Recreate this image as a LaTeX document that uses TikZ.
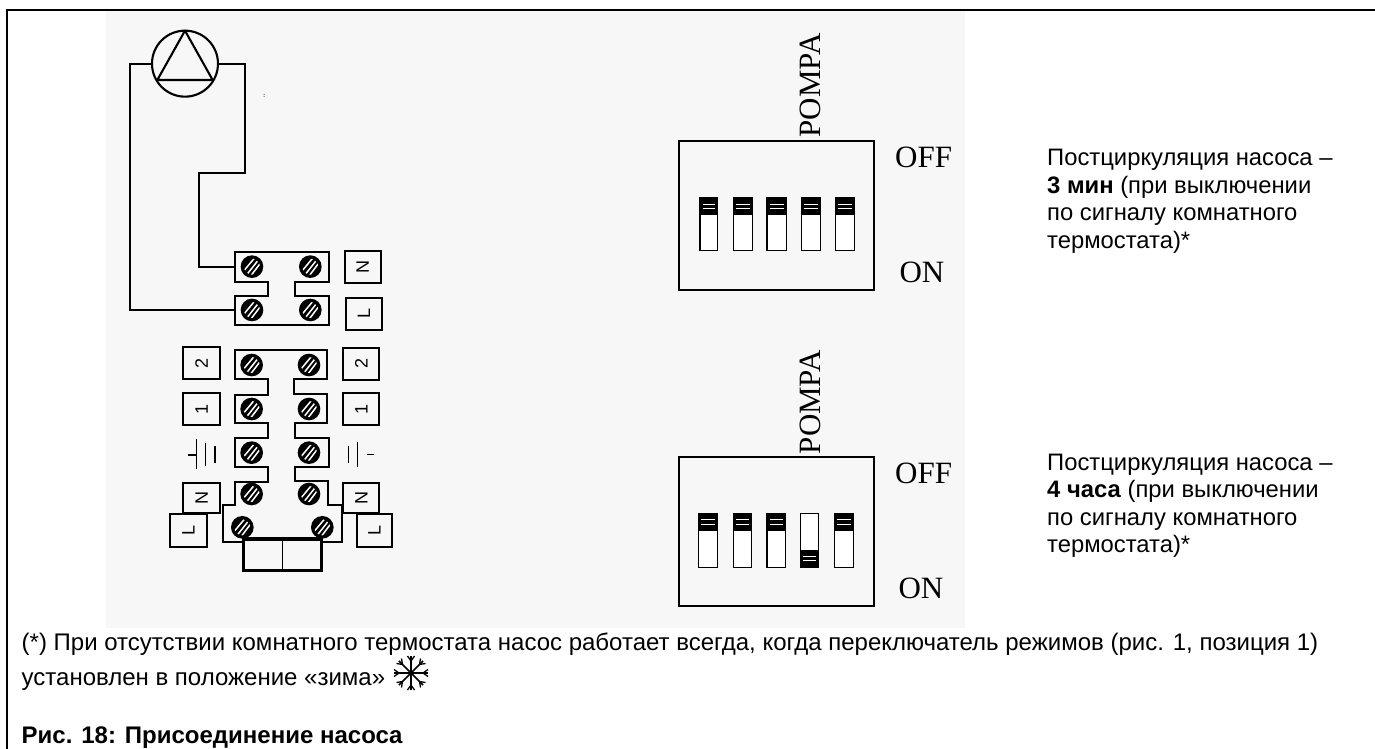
\documentclass[tikz,border=0pt]{standalone}
\usepackage{fontspec}
\setmainfont{Liberation Sans}
\newfontfamily\tms{Liberation Serif}
\definecolor{paper}{HTML}{F7F7F7}
\newcommand{\screw}[2]{%
  \begin{scope}[shift={(#1,#2)}]
    \fill[black] (0,0) circle[radius=34];
    \begin{scope}
      \clip (0,0) circle[radius=24];
      \draw[white,line width=1.5pt] (-24,12) -- (6,-24) (-14,22) -- (16,-16) (-3,27) -- (25,-10);
    \end{scope}
  \end{scope}}
\newcommand{\dip}[5]{%
  \draw[line width=1.6pt,fill=white] (#1,#3) rectangle (#2,#4);
  \ifnum#5=1
    \fill[black] (#1,#3) rectangle (#2,#3+52);
    \draw[white,line width=0.8pt] (#1+8,#3+19) -- (#2-8,#3+19) (#1+8,#3+32) -- (#2-8,#3+32);
  \else
    \fill[black] (#1,#4-52) rectangle (#2,#4);
    \draw[white,line width=0.8pt] (#1+8,#4-34) -- (#2-8,#4-34) (#1+8,#4-22) -- (#2-8,#4-22);
  \fi}
\begin{document}
\begin{tikzpicture}[x=1pt,y=-1pt,
  wire/.style={line width=2.1pt,line join=miter},
  body/.style={font=\fontsize{23.8}{27.5}\selectfont,anchor=base west,align=left,inner sep=0pt},
  foot/.style={font=\fontsize{24}{27.5}\selectfont,anchor=base west,align=left,inner sep=0pt},
  tmsl/.style={font=\tms\fontsize{31}{31}\selectfont,inner sep=0pt},
  box/.style={draw,line width=2pt,inner sep=0pt,font=\fontsize{18}{18}\selectfont}]
\useasboundingbox (0,0) rectangle (1375,749);
\fill[white] (0,0) rectangle (1375,749);
\fill[paper] (106,11) rectangle (965,628);
\draw[line width=2.2pt] (1375,10) -- (7,10) -- (7,749);

% upper part: pump and two terminals
\begin{scope}[shift={(100,0)},x=0.3333pt,y=-0.3333pt]
  \node[circle,draw,line width=2.1pt,minimum size=66pt,inner sep=0pt] (pump) at (255,191) {};
  \draw[wire,line join=round] (255,92) -- (172,240) -- (338,240) -- cycle;
  \coordinate (t1) at (405,800);
  \coordinate (t2) at (405,930);
  \draw[wire] (pump.west) -- (90,191) -- (90,930) -- (t2);
  \draw[wire] (pump.east) -- (436,191) -- (436,518) -- (298,518) -- (298,800) -- (t1);
  \draw[wire] (405,756) -- (688,756) -- (688,845) -- (585,845) -- (585,887) -- (688,887) -- (688,975) -- (405,975) -- (405,887) -- (505,887) -- (505,845) -- (405,845) -- cycle;
  \screw{456}{800}\screw{631}{800}\screw{456}{930}\screw{631}{930}
  \node[box,minimum width=36pt,minimum height=32pt] (n1) at (788,800) {\rotatebox{90}{N}};
  \node[box,minimum width=36pt,minimum height=32pt] (l1) at (792,942) {\rotatebox{90}{L}};
  \fill[black!60] (491,282) rectangle (494,285) (491,288) rectangle (494,291);
\end{scope}

% lower part: terminal strip
\begin{scope}[shift={(150,340)},x=0.3333pt,y=-0.3333pt]
  \draw[wire] (285,605) -- (218,605) -- (218,495) -- (255,495) -- (255,425) -- (355,425) -- (355,380) -- (255,380) -- (255,295) -- (355,295) -- (355,250) -- (255,250) -- (255,165) -- (355,165) -- (355,118) -- (255,118) -- (255,30) -- (532,30) -- (532,118) -- (432,118) -- (432,162) -- (532,162) -- (532,250) -- (435,250) -- (435,295) -- (537,295) -- (537,380) -- (435,380) -- (435,422) -- (535,422) -- (535,495) -- (575,495) -- (575,605) -- (510,605);
  \draw[line width=3.6pt] (280,597) rectangle (515,692);
  \draw[line width=1.6pt] (397,597) -- (397,692);
  \screw{305}{75}\screw{477}{75}\screw{305}{207}\screw{477}{207}\screw{305}{338}\screw{477}{338}\screw{305}{462}\screw{477}{462}\screw{277}{562}\screw{517}{562}
  \node[box,minimum width=36.5pt,minimum height=32pt] (a2) at (155,70) {\rotatebox{90}{2}};
  \node[box,minimum width=36.5pt,minimum height=32pt] (a1) at (155,207) {\rotatebox{90}{1}};
  \node[box,minimum width=36pt,minimum height=32pt] (b2) at (634,71) {\rotatebox{90}{2}};
  \node[box,minimum width=36pt,minimum height=32pt] (b1) at (634,207) {\rotatebox{90}{1}};
  \node[box,minimum width=36.5pt,minimum height=30pt] (an) at (155,475) {\rotatebox{90}{N}};
  \node[box,minimum width=36pt,minimum height=30pt] (bn) at (634,475) {\rotatebox{90}{N}};
  \node[box,minimum width=36.5pt,minimum height=32.5pt,fill=paper] (al) at (115,571) {\rotatebox{90}{L}};
  \node[box,minimum width=35.5pt,minimum height=32.5pt,fill=paper] (bl) at (673,571) {\rotatebox{90}{L}};
  % battery symbols
  \draw[line width=1.6pt] (115,345) -- (140,345) (140,298) -- (140,388);
  \draw[line width=1.6pt] (167,310) -- (167,378) (195,318) -- (195,370);
  \draw[line width=1.6pt] (595,318) -- (595,370) (622,305) -- (622,382) (650,344) -- (672,344);
\end{scope}

% DIP switch 1
\begin{scope}[shift={(640,30)},x=0.3333pt,y=-0.3333pt]
  \node[draw,line width=2pt,minimum width=195.3pt,minimum height=149.3pt,inner sep=0pt] (sw1) at (410,556) {};
  \dip{180}{233}{503}{662}{1}\dip{281}{337}{503}{662}{1}\dip{381}{440}{503}{662}{1}\dip{485}{541}{503}{662}{1}\dip{587}{643}{503}{662}{1}
  \node[tmsl,rotate=90,anchor=base east] (p1) at (543,10) {POMPA};
  \node[tmsl,anchor=base west] (off1) at (765,412) {OFF};
  \node[tmsl,anchor=base west] (on1) at (778,757) {ON};
\end{scope}

% DIP switch 2
\begin{scope}[shift={(640,340)},x=0.3333pt,y=-0.3333pt]
  \node[draw,line width=2pt,minimum width=195.3pt,minimum height=149pt,inner sep=0pt] (sw2) at (410,576) {};
  \dip{175}{232}{520}{683}{1}\dip{281}{335}{520}{683}{1}\dip{381}{436}{520}{683}{1}\dip{481}{536}{520}{683}{0}\dip{583}{640}{520}{683}{1}
  \node[tmsl,rotate=90,anchor=base east] (p2) at (543,30) {POMPA};
  \node[tmsl,anchor=base west] (off2) at (765,430) {OFF};
  \node[tmsl,anchor=base west] (on2) at (775,777) {ON};
\end{scope}

% captions
\node[body] (c1a) at (1047,165.7) {Постциркуляция насоса –};
\node[body] (c1b) at (1047,193.2) {\textbf{3 мин} (при выключении};
\node[body] (c1c) at (1047,220.7) {по сигналу комнатного};
\node[body] (c1d) at (1047,248.2) {термостата)*};
\node[body] (c2a) at (1047,470) {Постциркуляция насоса –};
\node[body] (c2b) at (1047,497.5) {\textbf{4 часа} (при выключении};
\node[body] (c2c) at (1047,525) {по сигналу комнатного};
\node[body] (c2d) at (1047,552.5) {термостата)*};

\node[foot] (f1) at (21.5,650.5) {(*) При отсутствии комнатного термостата насос работает всегда, когда переключатель режимов (рис. 1, позиция 1)};
\node[foot] (f2) at (21.5,685) {установлен в положение «зима»};
\node[foot] (f3) at (21.5,743) {\textbf{Рис. 18: Присоединение насоса}};

% snowflake
\begin{scope}[shift={(411,673)}]
  \foreach \a in {0,45,90,135,180,225,270,315}{
    \draw[line width=1.6pt,rotate=\a] (0,0) -- (17,0);
  }
  \foreach \a in {0,45,90,135,180,225,270,315}{
    \draw[line width=1.3pt,rotate=\a] (12,0) -- (17,-3.5) (12,0) -- (17,3.5);
  }
\end{scope}
\end{tikzpicture}
\end{document}
